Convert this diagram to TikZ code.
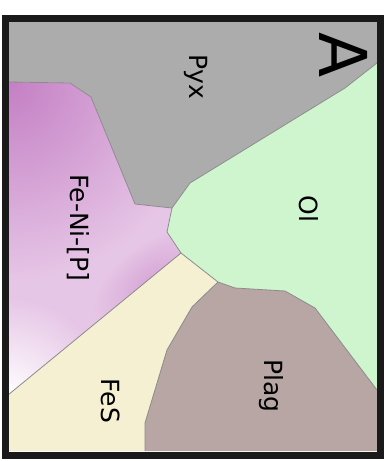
\documentclass[tikz,border=0pt]{standalone}
\usepackage{fontspec}
\setmainfont{DejaVu Sans}
\definecolor{pyxc}{HTML}{ACACAC}
\definecolor{olc}{HTML}{CFF5CF}
\definecolor{fesc}{HTML}{F5F0D2}
\definecolor{plagc}{HTML}{B7A6A4}
\definecolor{edgec}{HTML}{8C8C8C}
\definecolor{framec}{HTML}{1A1A1A}
\definecolor{nibase}{HTML}{E6C6E6}
\definecolor{nidk}{HTML}{C47FC4}
\definecolor{niedge}{HTML}{D7A8D7}
\pgfdeclareradialshading{shdark}{\pgfpoint{0bp}{0bp}}{color(0bp)=(nidk); color(25bp)=(nibase); color(50bp)=(nibase)}
\pgfdeclareradialshading{shedge}{\pgfpoint{0bp}{0bp}}{color(0bp)=(niedge); color(25bp)=(nibase); color(50bp)=(nibase)}
\pgfdeclareradialshading{shwhite}{\pgfpoint{0bp}{0bp}}{color(0bp)=(white); color(25bp)=(nibase); color(50bp)=(nibase)}
\begin{document}
\begin{tikzpicture}[x=1pt,y=-1pt,
  bound/.style={draw=edgec, line width=0.8pt, line join=round},
  lab/.style={rotate=-90, font=\fontsize{25}{30}\selectfont, inner sep=0pt, text=black}]
\useasboundingbox (0,0) rectangle (390,461);
\fill[white] (0,0) rectangle (390,461);
% regions
\fill[pyxc] (8,22) -- (377,22) -- (377,63) -- (345,88) -- (190,183) -- (172,208) -- (135,204) -- (91,97) -- (70,83) -- (8,82) -- cycle;
\fill[olc] (377,63) -- (345,88) -- (190,183) -- (172,208) -- (167,232) -- (181,253) -- (218,282) -- (235,288) -- (285,291) -- (315,308) -- (377,390) -- cycle;
\fill[fesc] (8,395) -- (181,253) -- (218,282) -- (192,307) -- (167,350) -- (145,423) -- (145,451) -- (8,451) -- cycle;
\fill[plagc] (218,282) -- (235,288) -- (285,291) -- (315,308) -- (377,390) -- (377,451) -- (145,451) -- (145,423) -- (167,350) -- (192,307) -- cycle;
\begin{scope}
  \clip (8,82) -- (70,83) -- (91,97) -- (135,204) -- (172,208) -- (167,232) -- (181,253) -- (8,395) -- cycle;
  \fill[nibase] (0,70) rectangle (200,400);
  \shade[shading=shdark] (8,82) circle (200);
  \begin{scope}[transform canvas={rotate around={39:(150,279)}}]
    \shade[shading=shedge] (150,279) ellipse [x radius=70, y radius=35];
  \end{scope}
  \shade[shading=shwhite] (8,398) circle (100);
\end{scope}
% boundaries
\draw[bound] (8,82) -- (70,83) -- (91,97) -- (135,204) -- (172,208);
\draw[bound] (172,208) -- (190,183) -- (345,88) -- (377,63);
\draw[bound] (172,208) -- (167,232) -- (181,253);
\draw[bound] (181,253) -- (8,395);
\draw[bound] (181,253) -- (218,282);
\draw[bound] (218,282) -- (235,288) -- (285,291) -- (315,308) -- (377,390);
\draw[bound] (218,282) -- (192,307) -- (167,350) -- (145,423) -- (145,451);
% frame
\draw[framec, line width=7pt] (5,18) rectangle (380.5,455);
% labels
\node[lab] (pyx) at (196,77) {Pyx};
\node[lab] (feni) at (78,228) {Fe-Ni-[P]};
\node[lab] (ol) at (309,209) {Ol};
\node[lab] (fes) at (111,401) {FeS};
\node[lab] (plag) at (271,386) {Plag};
\node[lab, font=\fontsize{66}{70}\selectfont] (bigA) at (344,55) {A};
\end{tikzpicture}
\end{document}
